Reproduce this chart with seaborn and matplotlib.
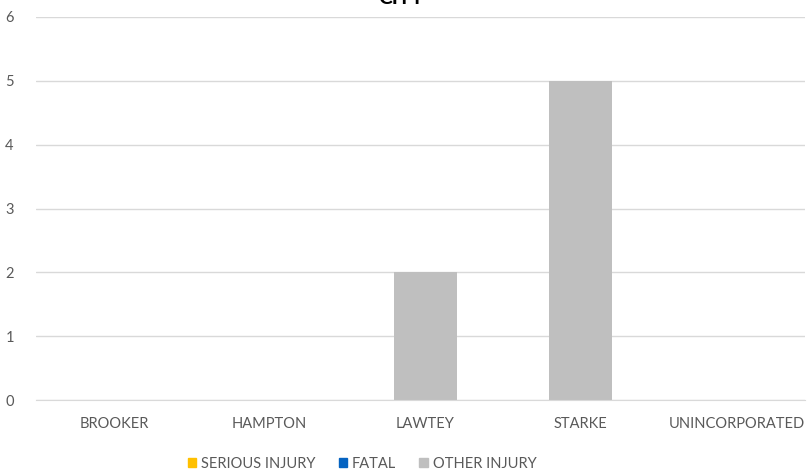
import pandas as pd
import matplotlib.pyplot as plt
import seaborn as sns

cities = ["BROOKER", "HAMPTON", "LAWTEY", "STARKE", "UNINCORPORATED"]
serious_injury = [0, 0, 0, 0, 0]
fatal = [0, 0, 0, 0, 0]
other_injury = [0, 0, 2, 5, 0]
series_names = ["SERIOUS INJURY", "FATAL", "OTHER INJURY"]
colors = ["#FFC000", "#0563C1", "#BFBFBF"]

rows = []
for name, vals in zip(series_names, [serious_injury, fatal, other_injury]):
    for c, v in zip(cities, vals):
        rows.append({"city": c, "type": name, "count": v})
df = pd.DataFrame(rows)

sns.set_style("white")
plt.rcParams["font.family"] = ["Lato", "DejaVu Sans"]

fig = plt.figure(figsize=(8.07, 4.70), dpi=100)
ax = fig.add_axes([36 / 807, 70 / 470, 769 / 807, 383 / 470])

sns.histplot(data=df, x="city", weights="count", hue="type",
             hue_order=series_names, palette=colors, multiple="stack",
             discrete=True, shrink=0.405, alpha=1, linewidth=0,
             legend=False, ax=ax)

ax.set_ylim(0, 6)
ax.set_xlim(-0.5, 4.44)
ax.set_yticks(range(7))
ax.yaxis.grid(True, color="#D9D9D9", linewidth=1)
ax.set_axisbelow(True)
for s in ["top", "right", "left"]:
    ax.spines[s].set_visible(False)
ax.spines["bottom"].set_color("#D9D9D9")
ax.tick_params(axis="both", length=0, labelsize=10.5, colors="#595959", pad=12)
ax.tick_params(axis="y", pad=16)
ax.set_xlabel("")
ax.set_ylabel("")

# title sits mostly above the canvas, as in the original export
fig.text(0.497, 1 - 4 / 470, "CITY", ha="center", va="baseline",
         fontsize=15, fontweight="bold", color="black")

handles = [plt.Rectangle((0, 0), 1, 1, color=c) for c in colors]
fig.legend(handles, series_names, loc="center", bbox_to_anchor=(362 / 807, 1 - 464 / 470),
           ncol=3, frameon=False, fontsize=10.5, handlelength=0.6, handleheight=0.6,
           handletextpad=0.3, columnspacing=1.6, labelcolor="#595959")

fig.savefig("out.png", dpi=100)
